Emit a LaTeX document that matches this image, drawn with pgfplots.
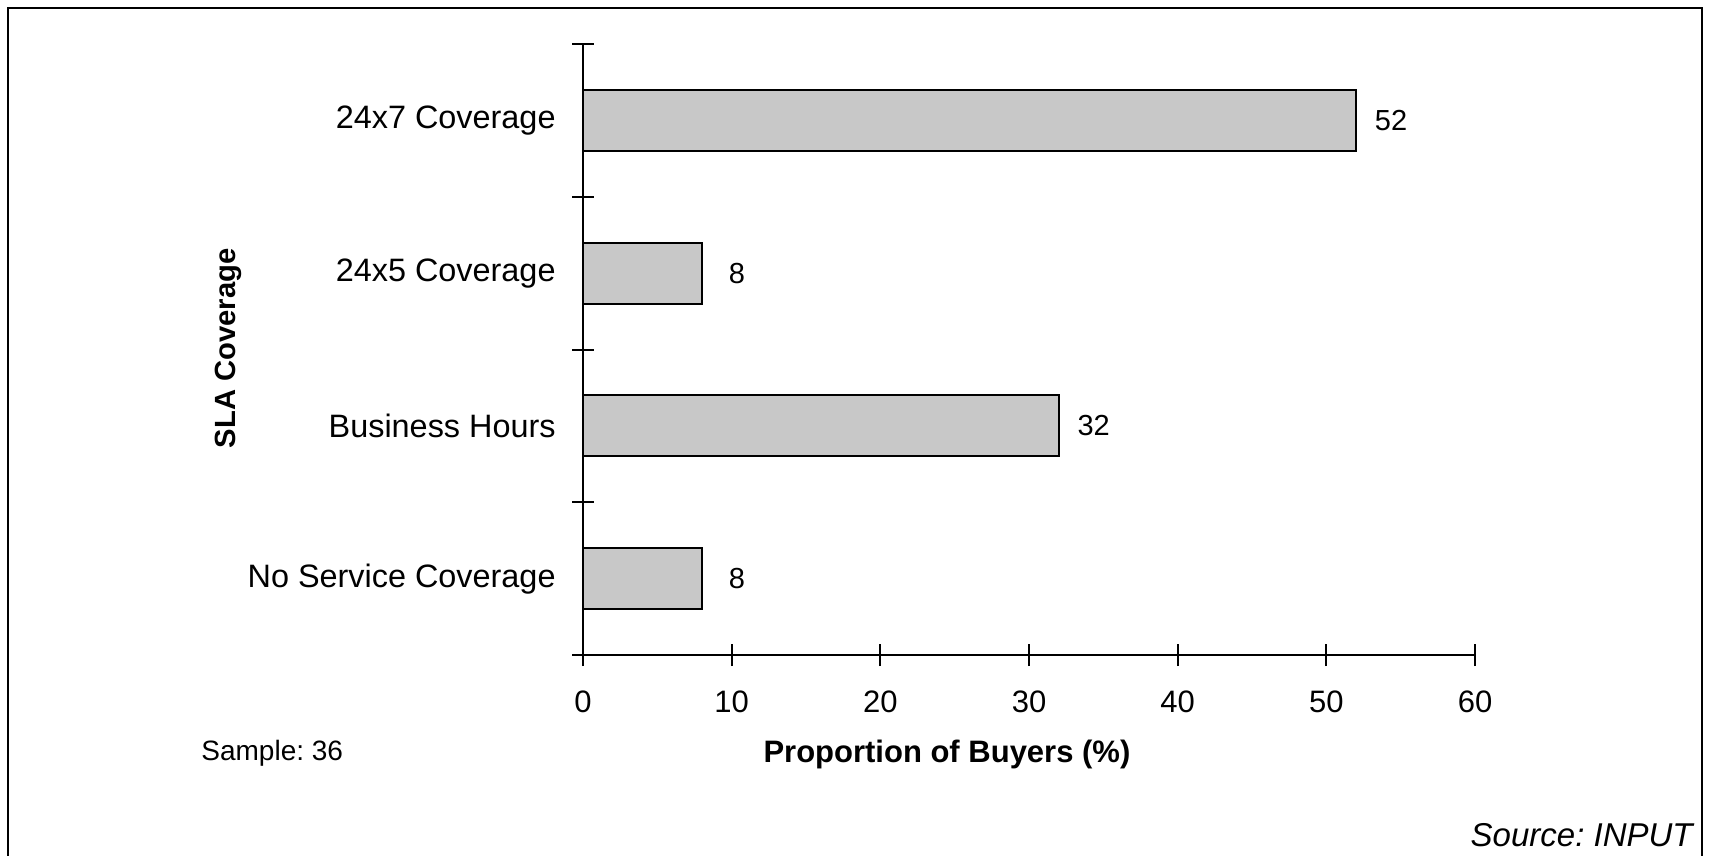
\documentclass[border=0pt]{standalone}
\usepackage{pgfplots}
\pgfplotsset{compat=1.18}
\usepackage{fontspec}
\setmainfont{Liberation Sans}
\definecolor{barfill}{RGB}{200,200,200}
\frenchspacing
\begin{document}
\begin{tikzpicture}[font=\fontsize{15.5pt}{18pt}\selectfont]
% canvas = 1713x856 px at 2 px per pt, origin top left
\path[use as bounding box] (0,0) rectangle (856.5pt,-428pt);
\draw[line width=1.1pt] (4pt,-440pt) -- (4pt,-4pt) -- (851pt,-4pt) -- (851pt,-440pt);
\begin{axis}[
    at={(291.5pt,-327.5pt)}, anchor=south west,
    scale only axis, width=446pt, height=305.5pt,
    clip=false,
    xbar, bar width=30.5pt,
    xmin=0, xmax=60, ymin=0, ymax=4,
    axis lines=left,
    axis line style={-, line width=1pt, black},
    hide obscured x ticks=false,
    xtick={0,10,...,60},
    ytick={0.5,1.5,2.5,3.5},
    yticklabels={No Service Coverage, Business Hours, 24x5 Coverage, 24x7 Coverage},
    minor ytick={0,1,2,3,4},
    tick align=center,
    major tick length=11pt, minor tick length=11pt,
    every tick/.style={black, line width=1pt},
    major y tick style={draw=none},
    /pgf/number format/assume math mode=true,
    yticklabel style={inner sep=0pt, anchor=east, xshift=-8pt,
      font=\fontsize{16.2pt}{18pt}\selectfont},
    xticklabel style={inner sep=0pt, anchor=north, yshift=-12pt},
    nodes near coords,
    nodes near coords style={anchor=center, inner sep=0pt, xshift=17.5pt, black,
      font=\fontsize{14.5pt}{18pt}\selectfont},
    xlabel={\bfseries Proportion of Buyers (\%)},
    xlabel style={at={(axis description cs:0.408,0)}, anchor=center, yshift=-49.5pt},
    ylabel={\bfseries SLA Coverage},
    ylabel style={at={(axis description cs:-0.397,0.502)}, anchor=center,
      font=\fontsize{14.6pt}{18pt}\selectfont},
  ]
  \addplot[fill=barfill, draw=black, line width=0.9pt]
    coordinates {(8,0.5) (32,1.5) (8,2.5) (52,3.5)};
\end{axis}
\node[anchor=west, inner sep=0pt, font=\fontsize{14pt}{16pt}\selectfont]
  at (100.5pt,-376.5pt) {Sample: 36};
\node[anchor=east, inner sep=0pt, font=\fontsize{16.5pt}{18pt}\selectfont\itshape]
  at (846.5pt,-417.5pt) {Source: INPUT};
\end{tikzpicture}
\end{document}
